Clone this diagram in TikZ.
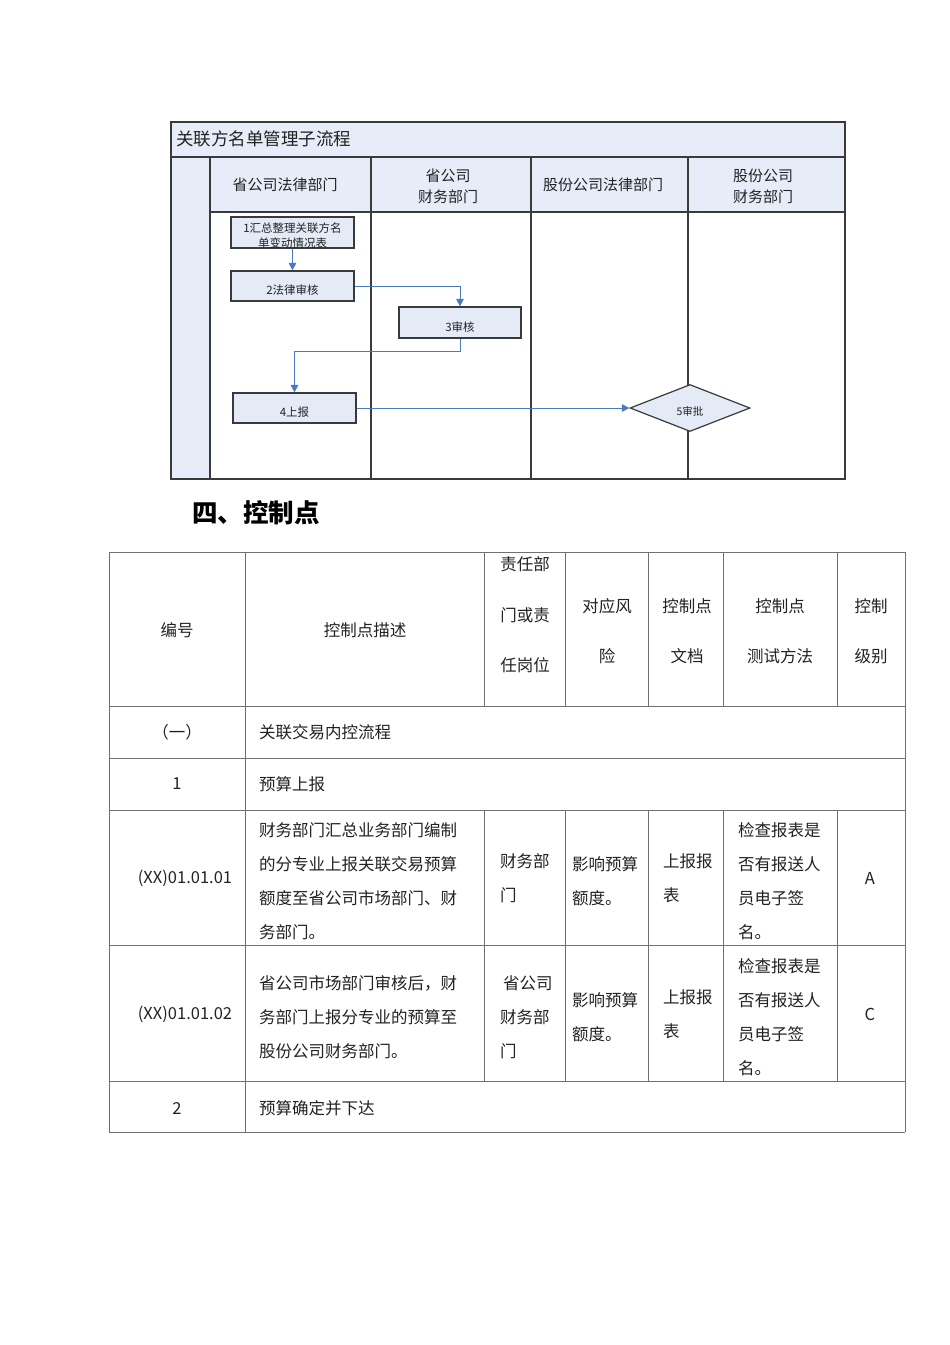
\documentclass[tikz,border=0pt]{standalone}
\usepackage{fontspec}
\setmainfont{Noto Sans CJK SC}
\usetikzlibrary{shapes.geometric,arrows.meta}
\definecolor{lanebg}{HTML}{E6EDF8}
\definecolor{boxbg}{HTML}{E4EBF7}
\definecolor{flowline}{HTML}{3A3A3A}
\definecolor{arrowblue}{HTML}{4A7BC0}
\definecolor{tabline}{HTML}{707070}
\definecolor{txt}{HTML}{222222}
\newcommand\fsTab{\fontsize{16.5pt}{34pt}\selectfont}
\newcommand\fsTabWide{\fontsize{16.5pt}{50.5pt}\selectfont}
\newcommand\fsLane{\fontsize{15pt}{21pt}\selectfont}
\newcommand\fsBox{\fontsize{11.5pt}{15pt}\selectfont}
\newcommand\lowtxt[2]{\raisebox{-#1}[\height][\depth]{#2}}
\begin{document}
\begin{tikzpicture}[x=1pt,y=-1pt,
  frameline/.style={draw=flowline,line width=1.3pt},
  flowbox/.style={draw=flowline,fill=boxbg,line width=1.2pt,inner sep=0pt,
    font=\fsBox,text=txt,align=center},
  arr/.style={draw=arrowblue,line width=1pt,-{Triangle[length=7.5pt,width=7.5pt]}},
  lanehead/.style={font=\fsLane,text=txt,align=center},
  tabrule/.style={draw=tabline,line width=1pt},
  cell/.style={font=\fsTab,text=txt,inner sep=0pt},
  cellw/.style={font=\fsTab,text=txt,inner sep=0pt,anchor=west,align=left}
]
\useasboundingbox (0,0) rectangle (950,1345);
\fill[white] (0,0) rectangle (950,1345);

% ---------- flowchart ----------
\fill[lanebg] (171,122) rectangle (845,212);
\fill[lanebg] (171,212) rectangle (210,479);
\draw[frameline] (171,122) rectangle (845,479);
\draw[frameline] (171,157) -- (845,157);
\draw[frameline] (210,157) -- (210,479);
\draw[frameline] (210,212) -- (845,212);
\draw[frameline] (371,157) -- (371,479);
\draw[frameline] (531,157) -- (531,479);
\draw[frameline] (688,157) -- (688,479);

\node[anchor=west,font=\fontsize{17.5pt}{20pt}\selectfont,text=txt,inner sep=0pt] (title) at (176,139) {关联方名单管理子流程};
\node[lanehead] (h1) at (285,185) {省公司法律部门};
\node[lanehead] (h2) at (448,186) {省公司\\财务部门};
\node[lanehead] (h3) at (603,185) {股份公司法律部门};
\node[lanehead] (h4) at (763,186) {股份公司\\财务部门};

\node[flowbox,minimum width=123pt,minimum height=31pt] (b1) at (292.5,232.5)
  {\lowtxt{4.5pt}{\begin{tabular}{@{}c@{}}1汇总整理关联方名\\单变动情况表\end{tabular}}};
\node[flowbox,minimum width=123pt,minimum height=30pt] (b2) at (292.5,286) {\lowtxt{4.5pt}{2法律审核}};
\node[flowbox,minimum width=122pt,minimum height=31pt] (b3) at (460,322.5) {\lowtxt{4.5pt}{3审核}};
\node[flowbox,minimum width=123pt,minimum height=30pt] (b4) at (294.5,408) {\lowtxt{4pt}{4上报}};
\node[shape=diamond,draw=flowline,fill=boxbg,line width=1.2pt,inner sep=0pt,
  minimum width=120pt,minimum height=47pt,font=\fontsize{10.5pt}{12pt}\selectfont,text=txt] (d5) at (690,408) {\lowtxt{3.5pt}{5审批}};

\coordinate (k3) at (460,351);
\draw[arr] (b1) -- (b2);
\draw[arr] (b2.east) -| (b3.north);
\draw[arr] (b3.south) -- (k3) -| (b4.north);
\draw[arr] (b4.east) -- (d5.west);

% ---------- heading ----------
\node[anchor=west,font=\fontsize{25.5pt}{28pt}\selectfont\bfseries,text=black,inner sep=0pt] (sec) at (192,513) {四、控制点};

% ---------- table ----------
\foreach \yy in {552,706,758,810,945,1081,1132}
  \draw[tabrule] (109,\yy) -- (905,\yy);
\draw[tabrule] (109,552) -- (109,1132);
\draw[tabrule] (905,552) -- (905,1132);
\draw[tabrule] (245,552) -- (245,1132);
\foreach \xx in {484,565,648,723,837} {
  \draw[tabrule] (\xx,552) -- (\xx,706);
  \draw[tabrule] (\xx,810) -- (\xx,1081);
}

% header
\node[cell] (c11) at (177,630) {编号};
\node[cell] (c12) at (365,630) {控制点描述};
\node[cell,font=\fsTabWide,align=left] (c13) at (525,615) {责任部\\门或责\\任岗位};
\node[cell,font=\fsTabWide,align=center] (c14) at (607,631) {对应风\\险};
\node[cell,font=\fsTabWide,align=center] (c15) at (687,631) {控制点\\文档};
\node[cell,font=\fsTabWide,align=center] (c16) at (780,631) {控制点\\测试方法};
\node[cell,font=\fsTabWide,align=center] (c17) at (871,631) {控制\\级别};

% section rows
\node[cell] (r1a) at (177,732) {（一）};
\node[cellw] (r1b) at (259,732) {关联交易内控流程};
\node[cell] (r2a) at (177,784) {1};
\node[cellw] (r2b) at (259,784) {预算上报};

% row 01.01.01
\node[cell] (r3a) at (185,878) {(XX)01.01.01};
\node[cellw] (r3b) at (259,881) {财务部门汇总业务部门编制\\的分专业上报关联交易预算\\额度至省公司市场部门、财\\务部门。};
\node[cellw] (r3c) at (500,878) {财务部\\门};
\node[cellw] (r3d) at (572,881) {影响预算\\额度。};
\node[cellw] (r3e) at (663,878) {上报报\\表};
\node[cellw] (r3f) at (738,881) {检查报表是\\否有报送人\\员电子签\\名。};
\node[cell] (r3g) at (870,878) {A};

% row 01.01.02
\node[cell] (r4a) at (185,1014) {(XX)01.01.02};
\node[cellw] (r4b) at (259,1017) {省公司市场部门审核后，财\\务部门上报分专业的预算至\\股份公司财务部门。};
\node[cellw] (r4c) at (500,1017) {\hspace*{3pt}省公司\\财务部\\门};
\node[cellw] (r4d) at (572,1017) {影响预算\\额度。};
\node[cellw] (r4e) at (663,1014) {上报报\\表};
\node[cellw] (r4f) at (738,1017) {检查报表是\\否有报送人\\员电子签\\名。};
\node[cell] (r4g) at (870,1014) {C};

% row 2
\node[cell] (r5a) at (177,1108) {2};
\node[cellw] (r5b) at (259,1108) {预算确定并下达};
\end{tikzpicture}
\end{document}
